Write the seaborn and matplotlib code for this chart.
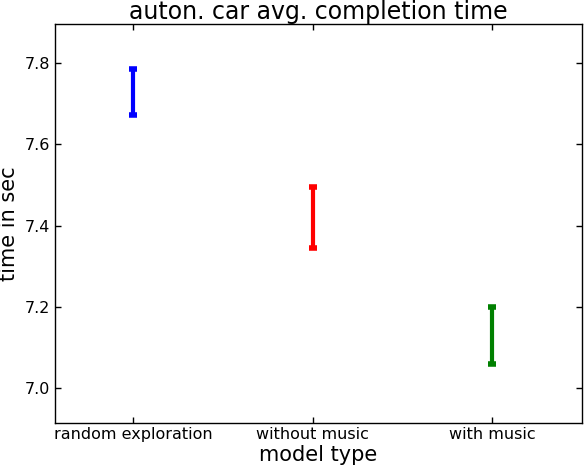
import pandas as pd
import matplotlib
matplotlib.use("Agg")
import matplotlib.pyplot as plt
import seaborn as sns

# model types and the range (low/high) of avg. completion time for each
models = ["random exploration", "without music", "with music"]
low = [7.673, 7.344, 7.058]
high = [7.786, 7.496, 7.200]
colors = ["blue", "red", "green"]

df = pd.DataFrame({"model": models, "low": low, "high": high})
df["mid"] = (df["low"] + df["high"]) / 2
df["err"] = (df["high"] - df["low"]) / 2

sns.set_style("white")
plt.rcParams.update({
    "font.family": ["DejaVu Sans"],
    "xtick.direction": "in",
    "ytick.direction": "in",
    "xtick.top": True,
    "ytick.right": True,
    "xtick.bottom": True,
    "ytick.left": True,
    "axes.edgecolor": "black",
    "text.color": "black",
    "axes.labelcolor": "black",
    "xtick.color": "black",
    "ytick.color": "black",
})

fig, ax = plt.subplots(figsize=(5.84, 4.7), dpi=100)
# invisible points just to set up the categorical axis the seaborn way
sns.stripplot(data=df, x="model", y="mid", hue="model", palette=colors,
              size=0, legend=False, ax=ax, jitter=False)
for i, row in df.iterrows():
    ax.errorbar(i, row["mid"], yerr=row["err"], fmt="none", ecolor=colors[i],
                elinewidth=3, capsize=3, capthick=4)

ax.set_xlim(-0.436, 2.5)
ax.set_ylim(6.914, 7.896)
ax.set_yticks([7.0, 7.2, 7.4, 7.6, 7.8])
ax.tick_params(labelsize=11.5, length=4, width=1)
for s in ax.spines.values():
    s.set_visible(True)
    s.set_linewidth(1)
ax.set_title("auton. car avg. completion time", fontsize=17, pad=3)
ax.set_xlabel("model type", fontsize=15, labelpad=2)
ax.set_ylabel("time in sec", fontsize=15, labelpad=4)

fig.subplots_adjust(left=0.094, right=0.997, top=0.948, bottom=0.101)
fig.savefig("out.png", dpi=100)
